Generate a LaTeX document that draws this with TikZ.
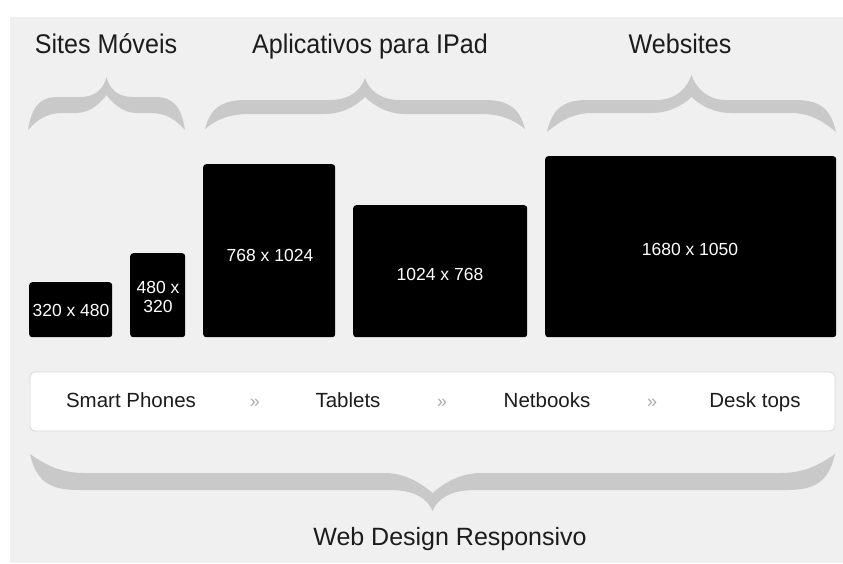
\documentclass[tikz,border=0pt]{standalone}
\usepackage{fontspec}
\setmainfont{Liberation Sans}
\definecolor{bgcol}{HTML}{F0F0F0}
\definecolor{bracecol}{HTML}{C9C9C9}
\definecolor{txtcol}{HTML}{1C1C1C}
\definecolor{stripline}{HTML}{D9D9D9}
\definecolor{sepcol}{HTML}{ABABAB}
\newcommand\sqz[1]{\scalebox{0.93}[1]{#1}}
% #1 xL #2 xR #3 yEnd #4 yTipSideEdge #5 yEndSideEdge #6 yTip #7 yNotch #8 dir #9 k
\newcommand\bracefill[9]{%
\fill[bracecol] (#1,#3)
 .. controls ({#1+5*#9},{#4-(#8)*10}) and ({#1+15*#9},#4) .. ({#1+40*#9},#4)
 -- ({(#1+#2)/2-35*#9},#4)
 .. controls ({(#1+#2)/2-15*#9},#4) and ({(#1+#2)/2-4*#9},{#6-(#8)*12}) .. ({(#1+#2)/2},#6)
 .. controls ({(#1+#2)/2+4*#9},{#6-(#8)*12}) and ({(#1+#2)/2+15*#9},#4) .. ({(#1+#2)/2+35*#9},#4)
 -- ({#2-40*#9},#4)
 .. controls ({#2-15*#9},#4) and ({#2-5*#9},{#4-(#8)*10}) .. (#2,#3)
 .. controls ({#2-12*#9},{#3+(#8)*10}) and ({#2-25*#9},#5) .. ({#2-45*#9},#5)
 -- ({(#1+#2)/2+40*#9},#5)
 .. controls ({(#1+#2)/2+20*#9},#5) and ({(#1+#2)/2+6*#9},{#7-(#8)*6}) .. ({(#1+#2)/2},#7)
 .. controls ({(#1+#2)/2-6*#9},{#7-(#8)*6}) and ({(#1+#2)/2-20*#9},#5) .. ({(#1+#2)/2-40*#9},#5)
 -- ({#1+45*#9},#5)
 .. controls ({#1+25*#9},#5) and ({#1+12*#9},{#3+(#8)*10}) .. (#1,#3) -- cycle;}
\begin{document}
\begin{tikzpicture}[x=1pt,y=1pt,
  title/.style={anchor=base,inner sep=0pt,text=txtcol,font=\fontsize{27}{30}\selectfont},
  screen/.style={fill=black,rounded corners=3pt,inner sep=0pt,anchor=north west},
  dim/.style={anchor=base,inner sep=0pt,text=white,font=\fontsize{17.5}{19}\selectfont,align=center},
  device/.style={anchor=base,inner sep=0pt,text=txtcol,font=\fontsize{20.5}{24}\selectfont},
  sep/.style={anchor=base,inner sep=0pt,text=sepcol,font=\fontsize{18}{20}\selectfont}]
\useasboundingbox (0,0) rectangle (843,-563);
\fill[white] (0,0) rectangle (843,-563);
\fill[bgcol] (10,-17) rectangle (843,-563);
% titles
\node[title] (t1) at (106,-53) {\sqz{Sites Móveis}};
\node[title] (t2) at (370,-53) {\sqz{Aplicativos para IPad}};
\node[title] (t3) at (680,-53) {\sqz{Websites}};
% braces
\bracefill{28}{185}{-130}{-97}{-113}{-77}{-95}{1}{0.75}
\bracefill{205}{525}{-129}{-100}{-114}{-78}{-97}{1}{1}
\bracefill{547}{836}{-132}{-100}{-113}{-75}{-97}{1}{1}
% screens
\node[screen,minimum width=83,minimum height=55] (s1) at (29,-282) {};
\node[screen,minimum width=55,minimum height=84] (s2) at (130,-253) {};
\node[screen,minimum width=132,minimum height=173] (s3) at (203,-164) {};
\node[screen,minimum width=174,minimum height=132] (s4) at (353,-205) {};
\node[screen,minimum width=291,minimum height=181] (s5) at (545,-156) {};
\node[dim] (d1) at (71,-316) {320 x 480};
\node[dim] (d2a) at (158,-293) {480 x};
\node[dim] (d2b) at (158,-312) {320};
\node[dim] (d3) at (270,-261) {768 x 1024};
\node[dim] (d4) at (440,-280) {1024 x 768};
\node[dim] (d5) at (690,-255) {1680 x 1050};
% strip
\node[fill=white,draw=stripline,line width=0.8pt,rounded corners=5pt,minimum width=805,minimum height=59,inner sep=0pt] (bar) at (432.5,-401.5) {};
\node[device] (p1) at (131,-407) {Smart Phones};
\node[sep] (a1) at (255,-407) {»};
\node[device] (p2) at (348,-407) {Tablets};
\node[sep] (a2) at (442,-407) {»};
\node[device] (p3) at (547,-407) {Netbooks};
\node[sep] (a3) at (652,-407) {»};
\node[device] (p4) at (755,-407) {Desk tops};
% bottom brace
\bracefill{30}{835}{-454}{-490}{-473}{-511}{-493}{-1}{1.2}
\node[title,font=\fontsize{25}{28}\selectfont] (wdr) at (450,-545) {Web Design Responsivo};
\end{tikzpicture}
\end{document}
